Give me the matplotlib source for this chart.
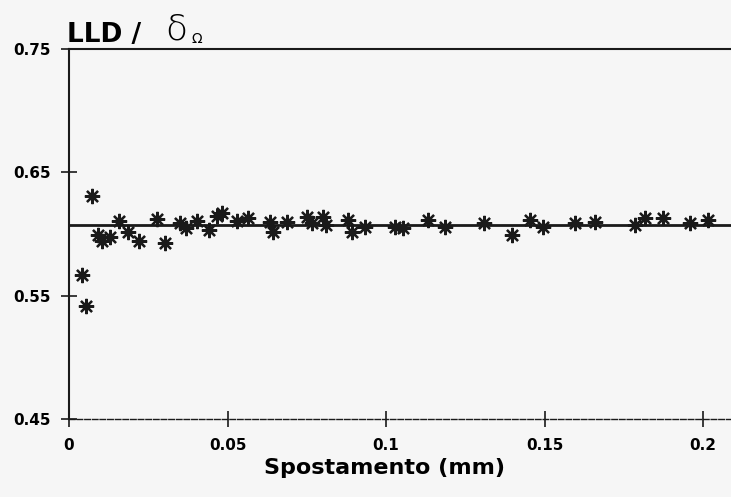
import numpy as np
import matplotlib.pyplot as plt

# values
spost = [0.0040, 0.0054, 0.0072, 0.0091, 0.0103, 0.0129, 0.0159, 0.0187, 0.0222,
         0.0277, 0.0303, 0.0350, 0.0369, 0.0403, 0.0443, 0.0466, 0.0484, 0.0529,
         0.0566, 0.0634, 0.0644, 0.0687, 0.0750, 0.0766, 0.0800, 0.0811, 0.0881,
         0.0892, 0.0934, 0.1028, 0.1055, 0.1133, 0.1186, 0.1309, 0.1397, 0.1454,
         0.1496, 0.1596, 0.1659, 0.1785, 0.1817, 0.1875, 0.1959, 0.2017]
lld = [0.5667, 0.5416, 0.6310, 0.5990, 0.5945, 0.5978, 0.6107, 0.6018, 0.5945,
       0.6121, 0.5924, 0.6086, 0.6046, 0.6107, 0.6032, 0.6146, 0.6167, 0.6107,
       0.6127, 0.6099, 0.6018, 0.6099, 0.6140, 0.6086, 0.6140, 0.6073, 0.6113,
       0.6018, 0.6059, 0.6059, 0.6046, 0.6113, 0.6059, 0.6086, 0.5991, 0.6113,
       0.6059, 0.6092, 0.6099, 0.6073, 0.6127, 0.6127, 0.6086, 0.6113]
livello = 0.607

xticks = [0, 0.05, 0.1, 0.15, 0.2]
xlabels = ['0', '0.05', '0.1', '0.15', '0.2']
yticks = [0.45, 0.55, 0.65, 0.75]
ylabels = ['0.45', '0.55', '0.65', '0.75']

plt.rcParams['font.family'] = ['DejaVu Sans']

fig = plt.figure(figsize=(7.31, 4.97), dpi=100)
fig.patch.set_facecolor('#f6f6f6')
ax = fig.add_axes([69/731, 1-419/497, 1-69/731, (419-49)/497])
ax.set_facecolor('none')

ax.axhline(livello, color='#1a1a1a', lw=2)
ax.plot(spost, lld, ls='none', marker='o', ms=5, color='#1a1a1a')
ax.plot(spost, lld, ls='none', marker=(8, 2, 0), ms=11, mew=1.6, color='#1a1a1a')

ax.set_xlim(0, (731-69)/3170)
ax.set_ylim(0.45, 0.75)

ax.spines['right'].set_visible(False)
ax.spines['top'].set_linewidth(1.5)
ax.spines['left'].set_linewidth(1.5)
ax.spines['bottom'].set_linewidth(1.0)
ax.spines['bottom'].set_linestyle((0, (4, 1.5)))
for s in ax.spines.values():
    s.set_color('#1a1a1a')

ax.set_xticks(xticks)
ax.set_xticklabels(xlabels, fontsize=11, fontweight='bold')
ax.set_yticks(yticks)
ax.set_yticklabels(ylabels, fontsize=11, fontweight='bold')
ax.tick_params(axis='both', direction='inout', length=12, width=1.2, color='#1a1a1a')
ax.tick_params(axis='x', pad=8)
ax.tick_params(axis='y', pad=7)

fig.text(385/731, 1-474/497, 'Spostamento (mm)', fontsize=16, fontweight='bold',
         ha='center', va='baseline')

fig.text(67/731, 1-42/497, 'LLD /', fontsize=19, fontweight='bold', ha='left', va='baseline')
fig.text(165/731, 1-40/497, 'δ', fontsize=26, fontweight='light', ha='left', va='baseline')
fig.text(192/731, 1-43/497, 'Ω', fontsize=10, ha='left', va='baseline')

fig.savefig('out.png', dpi=100, facecolor=fig.get_facecolor())
